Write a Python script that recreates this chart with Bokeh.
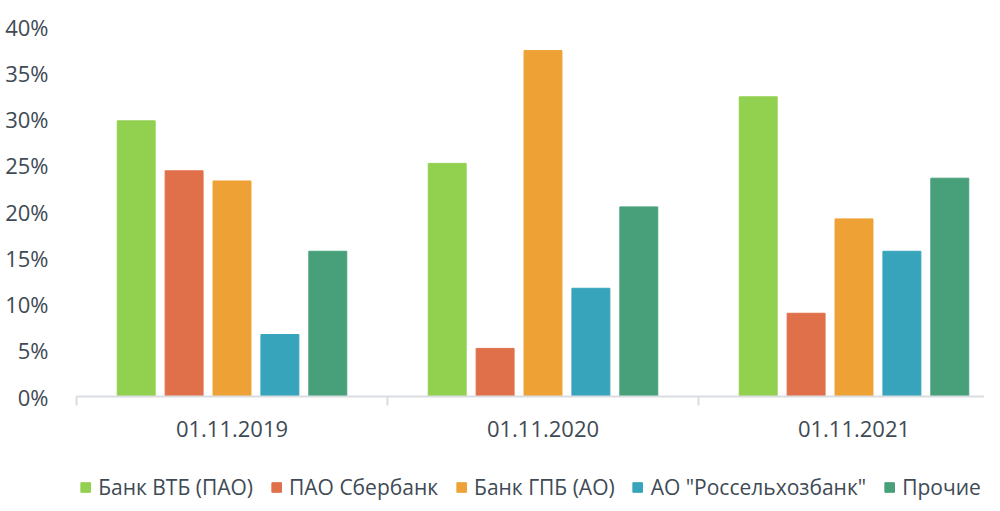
from bokeh.plotting import figure
from bokeh.models import Range1d, FixedTicker, NumeralTickFormatter, Legend, LegendItem, ColumnDataSource
from bokeh.layouts import column
from bokeh.embed import file_html
from bokeh.resources import INLINE

dates = ["01.11.2019", "01.11.2020", "01.11.2021"]
series = ["Банк ВТБ (ПАО)", "ПАО Сбербанк", "Банк ГПБ (АО)", "АО \"Россельхозбанк\"", "Прочие"]
vtb = [0.298, 0.252, 0.324]
sber = [0.244, 0.052, 0.090]
gpb = [0.233, 0.374, 0.192]
rshb = [0.067, 0.117, 0.157]
other = [0.157, 0.205, 0.236]
colors = ["#92d050", "#e0704a", "#eea236", "#37a4bb", "#48a07b"]

values = [vtb, sber, gpb, rshb, other]
offsets = [-0.308, -0.154, 0.0, 0.154, 0.308]
bar_w = 0.122

FONT = "Open Sans"
TXT = "#404a54"
FW = 908

p = figure(frame_width=FW, frame_height=370, output_backend="svg", toolbar_location=None,
           x_range=Range1d(0, FW / 311), y_range=Range1d(0, 0.40),
           min_border_left=76, min_border_right=0, min_border_top=26, min_border_bottom=0)
p.outline_line_color = None
p.xgrid.grid_line_color = None
p.ygrid.grid_line_color = None
p.background_fill_color = "white"
p.border_fill_color = "white"

# legend figure below the chart (shares the same data sources; its range hides the bars)
lg = figure(width=984, height=42, output_backend="svg", toolbar_location=None,
            x_axis_type=None, y_axis_type=None, x_range=Range1d(-10, -9), y_range=Range1d(0, 1),
            min_border=0)
lg.outline_line_color = None
lg.xgrid.grid_line_color = None
lg.ygrid.grid_line_color = None

items = []
for i, (name, vals, col, off) in enumerate(zip(series, values, colors, offsets)):
    src = ColumnDataSource(dict(x=[k + 0.5 + off for k in range(len(dates))], top=vals))
    p.vbar(x="x", top="top", bottom=0, width=bar_w, source=src,
           fill_color=col, line_color=col, line_width=1)
    r = lg.vbar(x="x", top="top", bottom=0, width=bar_w, source=src,
                fill_color=col, line_color=col, line_width=1)
    items.append(LegendItem(label=name, renderers=[r]))

# y axis
p.yaxis.ticker = FixedTicker(ticks=[i * 0.05 for i in range(9)])
p.yaxis.formatter = NumeralTickFormatter(format="0%")
p.yaxis.axis_line_color = None
p.yaxis.major_tick_line_color = None
p.yaxis.minor_tick_line_color = None
p.yaxis.major_label_standoff = 22
p.yaxis.major_label_text_font = FONT
p.yaxis.major_label_text_font_size = "22px"
p.yaxis.major_label_text_color = TXT

# x axis
p.xaxis.ticker = FixedTicker(ticks=[0.5, 1.5, 2.5], minor_ticks=[0, 1, 2, 3])
p.xaxis.major_label_overrides = {0.5: dates[0], 1.5: dates[1], 2.5: dates[2]}
p.xaxis.axis_line_color = "#d9dde2"
p.xaxis.axis_line_width = 2
p.xaxis.major_tick_line_color = None
p.xaxis.minor_tick_line_color = "#d9dde2"
p.xaxis.minor_tick_line_width = 2
p.xaxis.minor_tick_out = 9
p.xaxis.minor_tick_in = 0
p.xaxis.major_label_standoff = 15
p.xaxis.major_label_text_font = FONT
p.xaxis.major_label_text_font_size = "22px"
p.xaxis.major_label_text_color = TXT
p.xaxis.axis_label = "\u00a0"
p.xaxis.axis_label_standoff = 6
p.xaxis.axis_label_text_font_size = "10px"

legend = Legend(items=items, orientation="horizontal", location="bottom_center",
                label_text_font=FONT, label_text_font_size="21px", label_text_color=TXT,
                glyph_width=12, glyph_height=12, spacing=17, label_standoff=7,
                label_height=22,
                border_line_color=None, background_fill_alpha=0, margin=0, padding=2)
lg.add_layout(legend)

layout = column(p, lg, spacing=0)
open("out.html", "w").write(file_html(layout, INLINE))
